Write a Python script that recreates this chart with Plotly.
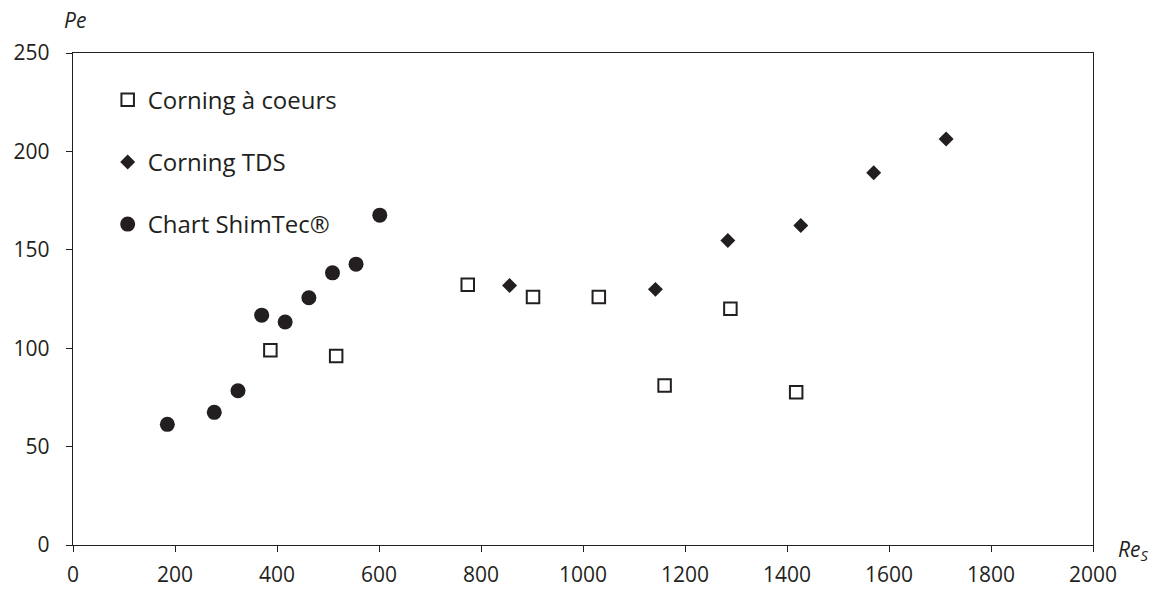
import plotly.graph_objects as go

# Data
coeurs_re = [387, 516, 774, 902, 1031, 1160, 1289, 1418]
coeurs_pe = [99, 96, 132.2, 126, 126, 81, 120, 77.6]

tds_re = [856, 1142, 1284, 1427, 1570, 1712]
tds_pe = [131.9, 129.9, 154.7, 162.4, 189.1, 206.3]

shim_re = [185, 277, 323.5, 370, 416, 462.5, 508.8, 555, 601.5]
shim_pe = [61.3, 67.4, 78.4, 116.8, 113.3, 125.6, 138.3, 142.7, 167.6]

x_ticks = [0, 200, 400, 600, 800, 1000, 1200, 1400, 1600, 1800, 2000]
y_ticks = [0, 50, 100, 150, 200, 250]

INK = "#231F20"
FONT = "Open Sans"

fig = go.Figure()
fig.add_trace(go.Scatter(
    x=coeurs_re, y=coeurs_pe, mode="markers", name="Corning à coeurs",
    legendgroup="a",
    marker=dict(symbol="square", size=12.5, color="white",
                line=dict(color=INK, width=2))))
fig.add_trace(go.Scatter(
    x=tds_re, y=tds_pe, mode="markers", name="Corning TDS",
    legendgroup="b",
    marker=dict(symbol="diamond", size=11.5, color=INK,
                line=dict(color=INK, width=0))))
fig.add_trace(go.Scatter(
    x=shim_re, y=shim_pe, mode="markers", name="Chart ShimTec®",
    legendgroup="c",
    marker=dict(symbol="circle", size=15, color=INK,
                line=dict(color=INK, width=0))))

axis_common = dict(
    showgrid=False, zeroline=False, showline=True, linecolor=INK,
    linewidth=1.4, mirror=True, ticks="outside", ticklen=6,
    tickcolor=INK, tickwidth=1.4, automargin=False,
    tickfont=dict(family=FONT, size=21, color=INK))

fig.update_xaxes(range=[0, 2000], tickvals=x_ticks, ticklabelstandoff=5,
                 **axis_common)
fig.update_yaxes(range=[0, 250], tickvals=y_ticks, ticklabelstandoff=12,
                 **axis_common)

fig.update_layout(
    width=1149, height=581,
    margin=dict(l=65, r=64, t=45, b=44),
    plot_bgcolor="white", paper_bgcolor="white",
    font=dict(family=FONT, size=21, color=INK),
    showlegend=True,
    legend=dict(x=0.034, y=0.95, xanchor="left", yanchor="top",
                bgcolor="rgba(0,0,0,0)", tracegroupgap=28,
                itemwidth=30,
                font=dict(family=FONT, size=24, color=INK)),
    annotations=[
        dict(text="<i>Pe</i>", xref="paper", yref="paper", x=0, y=1.0,
             xshift=-11, yshift=33, xanchor="left", yanchor="middle",
             width=34, align="left",
             showarrow=False,
             font=dict(family=FONT, size=21, color=INK)),
        dict(text="<i>Re<sub>S</sub></i>", xref="paper", yref="paper",
             x=1.0, y=0, xshift=23, yshift=-5, xanchor="left",
             yanchor="middle", showarrow=False,
             font=dict(family=FONT, size=21, color=INK)),
    ],
)

fig.write_html("out.html")
